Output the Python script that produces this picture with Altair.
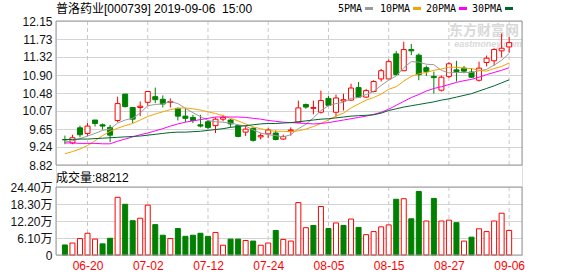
import altair as alt
import pandas as pd

# ---------------- data ----------------
dates = ["06-17","06-18","06-19","06-20","06-21","06-24","06-25","06-26","06-27","06-28",
         "07-01","07-02","07-03","07-04","07-05","07-08","07-09","07-10","07-11","07-12",
         "07-15","07-16","07-17","07-18","07-19","07-22","07-23","07-24","07-25","07-26",
         "07-29","07-30","07-31","08-01","08-02","08-05","08-06","08-07","08-08","08-09",
         "08-12","08-13","08-14","08-15","08-16","08-19","08-20","08-21","08-22","08-23",
         "08-26","08-27","08-28","08-29","08-30","09-02","09-03","09-04","09-05","09-06"]

opens = [9.41, 9.33, 9.68, 9.55, 9.86, 9.75, 9.69, 9.85, 10.46, 10.15,
         10.15, 10.27, 10.40, 10.34, 10.27, 10.13, 9.95, 9.92, 9.75, 9.82,
         9.73, 9.88, 9.86, 9.73, 9.58, 9.67, 9.47, 9.54, 9.56, 9.42,
         9.61, 9.81, 10.22, 10.13, 10.04, 10.36, 10.04, 10.30, 10.32, 10.61,
         10.39, 10.52, 10.81, 10.81, 11.39, 11.00, 11.49, 11.36, 11.07, 10.87,
         10.55, 10.87, 11.02, 11.06, 10.97, 10.78, 11.19, 11.23, 11.46, 11.55]
highs = [9.50, 9.52, 9.73, 9.79, 9.86, 9.78, 9.75, 10.40, 10.46, 10.15,
         10.29, 10.53, 10.61, 10.43, 10.36, 10.15, 10.13, 9.98, 9.98, 9.86,
         9.92, 9.98, 9.88, 9.75, 9.73, 9.69, 9.56, 9.67, 9.62, 9.52,
         9.69, 10.31, 10.24, 10.31, 10.54, 10.42, 10.45, 10.47, 10.70, 10.74,
         10.58, 10.78, 11.04, 11.26, 11.46, 11.67, 11.62, 11.40, 11.12, 10.98,
         10.89, 11.20, 11.23, 11.11, 11.06, 11.21, 11.35, 11.52, 11.86, 11.78]
lows = [9.30, 9.30, 9.46, 9.49, 9.71, 9.64, 9.35, 9.81, 10.15, 9.79,
        9.95, 10.19, 10.25, 10.15, 10.15, 9.85, 9.81, 9.79, 9.69, 9.65,
        9.56, 9.83, 9.69, 9.46, 9.49, 9.36, 9.41, 9.44, 9.39, 9.40,
        9.50, 9.80, 10.12, 9.99, 10.01, 10.18, 9.94, 10.08, 10.31, 10.37,
        10.37, 10.50, 10.75, 10.81, 10.88, 11.00, 11.36, 10.78, 10.88, 10.47,
        10.52, 10.83, 10.75, 10.94, 10.83, 10.75, 11.10, 11.12, 11.31, 11.42]
closes = [9.40, 9.45, 9.52, 9.72, 9.78, 9.72, 9.51, 10.24, 10.17, 9.88,
          10.18, 10.52, 10.33, 10.23, 10.29, 9.95, 9.90, 9.85, 9.72, 9.69,
          9.88, 9.92, 9.77, 9.48, 9.65, 9.39, 9.50, 9.63, 9.41, 9.48,
          9.63, 10.14, 10.16, 10.15, 10.31, 10.20, 10.37, 10.33, 10.60, 10.39,
          10.54, 10.75, 11.00, 11.21, 10.91, 11.49, 11.46, 10.91, 10.98, 10.84,
          10.85, 11.16, 10.98, 10.99, 10.85, 11.06, 11.29, 11.49, 11.52, 11.65]

# volume in 万 (10k lots)
volumes = [3.6, 4.3, 5.9, 7.8, 5.7, 4.0, 6.0, 20.7, 18.2, 12.3,
           13.2, 17.9, 10.9, 7.1, 5.9, 9.5, 6.7, 7.1, 7.8, 6.7,
           8.1, 3.5, 5.7, 5.7, 5.2, 5.0, 3.5, 4.3, 8.8, 5.6,
           5.0, 18.8, 9.8, 10.6, 17.4, 9.5, 11.5, 10.6, 12.9, 9.9,
           7.3, 8.4, 10.1, 10.8, 20.0, 20.2, 13.0, 22.8, 12.2, 20.3,
           12.2, 12.5, 11.6, 5.0, 6.4, 9.4, 8.4, 12.2, 15.0, 8.82]
vol_up = [0,1,1,1,1,0,0,1,0,0, 1,1,0,0,1,0,0,0,0,0,
          1,1,0,0,1,0,1,1,0,1, 1,1,1,0,1,0,1,0,1,0,
          1,1,1,1,0,1,0,0,1,0, 1,1,0,1,0,1,1,1,1,1]

ma5 = [9.35, 9.38, 9.43, 9.49, 9.55, 9.62, 9.65, 9.79, 9.86, 9.90,
       10.02, 10.19, 10.22, 10.23, 10.29, 10.24, 10.13, 10.03, 9.94, 9.85,
       9.82, 9.81, 9.79, 9.75, 9.72, 9.63, 9.56, 9.52, 9.50, 9.47,
       9.52, 9.66, 9.76, 9.91, 10.08, 10.19, 10.24, 10.27, 10.36, 10.38,
       10.45, 10.52, 10.66, 10.78, 10.88, 11.07, 11.21, 11.20, 11.15, 11.14,
       11.01, 10.95, 10.96, 10.96, 10.96, 11.00, 11.03, 11.13, 11.24, 11.40]
ma10 = [9.08, 9.13, 9.19, 9.27, 9.38, 9.50, 9.60, 9.67, 9.73, 9.78,
        9.86, 9.94, 10.00, 10.05, 10.10, 10.13, 10.14, 10.12, 10.09, 10.05,
        10.01, 9.96, 9.90, 9.84, 9.77, 9.70, 9.66, 9.62, 9.60, 9.60,
        9.59, 9.61, 9.65, 9.71, 9.78, 9.86, 9.95, 10.02, 10.14, 10.23,
        10.32, 10.38, 10.46, 10.57, 10.63, 10.76, 10.87, 10.93, 10.96, 11.01,
        11.04, 11.08, 11.08, 11.06, 11.05, 11.01, 10.99, 11.05, 11.10, 11.18]
ma20 = [9.33, 9.33, 9.32, 9.32, 9.32, 9.31, 9.31, 9.37, 9.42, 9.47,
        9.52, 9.56, 9.61, 9.66, 9.72, 9.77, 9.81, 9.84, 9.87, 9.90,
        9.93, 9.93, 9.93, 9.93, 9.92, 9.90, 9.88, 9.85, 9.83, 9.81,
        9.80, 9.79, 9.78, 9.77, 9.78, 9.80, 9.83, 9.86, 9.89, 9.92,
        9.95, 9.99, 10.04, 10.11, 10.20, 10.29, 10.38, 10.45, 10.53, 10.59,
        10.63, 10.68, 10.73, 10.77, 10.80, 10.85, 10.91, 10.96, 11.01, 11.07]
ma30 = [9.41, 9.41, 9.42, 9.42, 9.43, 9.44, 9.45, 9.46, 9.47, 9.48,
        9.49, 9.51, 9.53, 9.55, 9.57, 9.58, 9.58, 9.59, 9.60, 9.62,
        9.64, 9.66, 9.69, 9.71, 9.73, 9.75, 9.77, 9.78, 9.78, 9.79,
        9.80, 9.82, 9.84, 9.86, 9.88, 9.89, 9.91, 9.93, 9.95, 9.96,
        9.97, 9.98, 10.02, 10.08, 10.12, 10.16, 10.19, 10.22, 10.25, 10.28,
        10.32, 10.35, 10.39, 10.43, 10.47, 10.53, 10.59, 10.65, 10.72, 10.79]

price_ticks = [8.82, 9.24, 9.65, 10.07, 10.48, 10.90, 11.32, 11.73, 12.15]
vol_ticks = [0, 6.10, 12.20, 18.30, 24.40]
label_idx = [3, 11, 19, 27, 35, 43, 51, 59]
ma_names = ["5PMA", "10PMA", "20PMA", "30PMA"]
ma_colors = ["#9a9a9a", "#f5a300", "#ff00ff", "#00652e"]
title_text = "普洛药业[000739] 2019-09-06 \u00a015:00"
vol_title = "成交量:88212"
wm_cn = "东方财富网"
wm_en = "eastmoney.com"

# ---------------- layout ----------------
W, H = 466, 234
PH = 144           # price panel height
VT, VB = 166, 234  # volume panel top / bottom
FONT = "Liberation Sans, Noto Sans CJK SC, sans-serif"
RED = "#ff0000"
GREEN = "#008000"

idx = list(range(len(dates)))
df = pd.DataFrame({"idx": idx, "open": opens, "high": highs, "low": lows,
                   "close": closes, "vol": volumes, "vup": vol_up})
ma_df = pd.DataFrame({
    "idx": idx * 4,
    "value": ma5 + ma10 + ma20 + ma30,
    "name": [n for n in ma_names for _ in idx],
})
grid_df = pd.DataFrame({"idx": label_idx})
one = alt.Data(values=[{"t": ""}])

date_arr = "[" + ",".join("'%s'" % d for d in dates) + "]"
x_axis = alt.Axis(values=label_idx, labelExpr=date_arr + "[datum.value]", grid=False,
                  domain=False, ticks=False, labelColor=RED, labelFontSize=12,
                  labelFont=FONT, labelPadding=5, labelFlush=False, title=None,
                  labelAngle=0, labelBaseline="top")
x_scale = alt.Scale(domain=[-0.52, 60.04], nice=False, zero=False)
X = alt.X("idx:Q", scale=x_scale, axis=x_axis)

p_scale = alt.Scale(domain=[8.82, 12.15], range=[PH, 0], nice=False, zero=False)
p_axis = alt.Axis(values=price_ticks, format=".2f", grid=True, gridColor="#d4d4d4",
                  domain=False, ticks=False, labelFont=FONT, labelFontSize=12,
                  labelColor="#111", labelPadding=4, title=None, orient="left")
v_scale = alt.Scale(domain=[0, 24.4], range=[VB, VT], nice=False, zero=True)
v_axis = alt.Axis(values=vol_ticks,
                  labelExpr="datum.value == 0 ? '0' : format(datum.value, '.2f') + '万'",
                  grid=True, gridColor="#d4d4d4", domain=False, ticks=False,
                  labelFont=FONT, labelFontSize=12, labelColor="#111",
                  labelPadding=4, title=None, orient="left")

up = "datum.close >= datum.open"

# watermark
wm1 = alt.Chart(alt.Data(values=[{"t": wm_cn}])).mark_text(
    font=FONT, fontSize=14, fontWeight="bold", color="#d9d9d9", align="right",
    baseline="middle").encode(x=alt.value(463), y=alt.value(10), text="t:N")
wm2 = alt.Chart(alt.Data(values=[{"t": wm_en}])).mark_text(
    font=FONT, fontSize=9, fontWeight="bold", fontStyle="italic", color="#d9d9d9",
    align="right", baseline="middle").encode(x=alt.value(466), y=alt.value(23), text="t:N")

vgrid_p = alt.Chart(grid_df).mark_rule(color="#c8c8c8", strokeDash=[4, 3], strokeWidth=1).encode(
    x=X, y=alt.value(0), y2=alt.value(PH))
vgrid_v = alt.Chart(grid_df).mark_rule(color="#c8c8c8", strokeDash=[4, 3], strokeWidth=1).encode(
    x=X, y=alt.value(VT), y2=alt.value(VB))

wick = alt.Chart(df).mark_rule(strokeWidth=1).encode(
    x=X, y=alt.Y("low:Q", scale=p_scale, axis=p_axis), y2="high:Q",
    color=alt.condition(up, alt.value(RED), alt.value(GREEN)))
body = alt.Chart(df).mark_bar(size=5, strokeWidth=1).encode(
    x=X, y=alt.Y("open:Q", scale=p_scale, axis=p_axis), y2="close:Q",
    fill=alt.condition(up, alt.value("white"), alt.value(GREEN)),
    stroke=alt.condition(up, alt.value(RED), alt.value(GREEN)))
ma = alt.Chart(ma_df).mark_line(strokeWidth=1).encode(
    x=X, y=alt.Y("value:Q", scale=p_scale, axis=p_axis),
    color=alt.Color("name:N", scale=alt.Scale(domain=ma_names, range=ma_colors), legend=None),
    detail="name:N")

border_p = alt.Chart(one).mark_rect(fillOpacity=0, stroke="#999999", strokeWidth=1).encode(
    x=alt.value(0), x2=alt.value(W), y=alt.value(0), y2=alt.value(PH))
border_v = alt.Chart(one).mark_rect(fillOpacity=0, stroke="#999999", strokeWidth=1).encode(
    x=alt.value(0), x2=alt.value(W), y=alt.value(VT), y2=alt.value(VB))

title = alt.Chart(alt.Data(values=[{"t": title_text}])).mark_text(
    font=FONT, fontSize=12, color="#000", align="left", baseline="middle").encode(
    x=alt.value(0), y=alt.value(-12), text="t:N")
vtitle = alt.Chart(alt.Data(values=[{"t": vol_title}])).mark_text(
    font=FONT, fontSize=12, color="#000", align="left", baseline="middle").encode(
    x=alt.value(0), y=alt.value(VT - 9), text="t:N")

legend_layers = []
leg_text_x = [282, 324, 370, 416]
leg_mark_x = [309, 357, 403, 449]
for i, name in enumerate(ma_names):
    legend_layers.append(
        alt.Chart(alt.Data(values=[{"t": name}])).mark_text(
            font="DejaVu Sans Mono", fontSize=10, color="#000", align="left",
            baseline="middle").encode(x=alt.value(leg_text_x[i]), y=alt.value(-12), text="t:N"))
    legend_layers.append(
        alt.Chart(one).mark_rect(color=ma_colors[i]).encode(
            x=alt.value(leg_mark_x[i]), x2=alt.value(leg_mark_x[i] + 8),
            y=alt.value(-14), y2=alt.value(-11)))

vol = alt.Chart(df).mark_bar(size=5, strokeWidth=1).encode(
    x=X, y=alt.Y("vol:Q", scale=v_scale, axis=v_axis),
    fill=alt.condition("datum.vup == 1", alt.value("white"), alt.value(GREEN)),
    stroke=alt.condition("datum.vup == 1", alt.value(RED), alt.value(GREEN)))

price_layer = alt.layer(wm1, wm2, vgrid_p, wick, body, ma, border_p, title, *legend_layers)
vol_layer = alt.layer(vgrid_v, vol, border_v, vtitle)

chart = alt.layer(price_layer, vol_layer).resolve_scale(y="independent").properties(
    width=W, height=H,
    padding={"left": 56, "top": 21, "right": 56, "bottom": 21},
    autosize=alt.AutoSizeParams(type="none"),
).configure_view(stroke=None).configure(background="white")

chart.save("out.html", embed_options={"renderer": "svg", "actions": False})
